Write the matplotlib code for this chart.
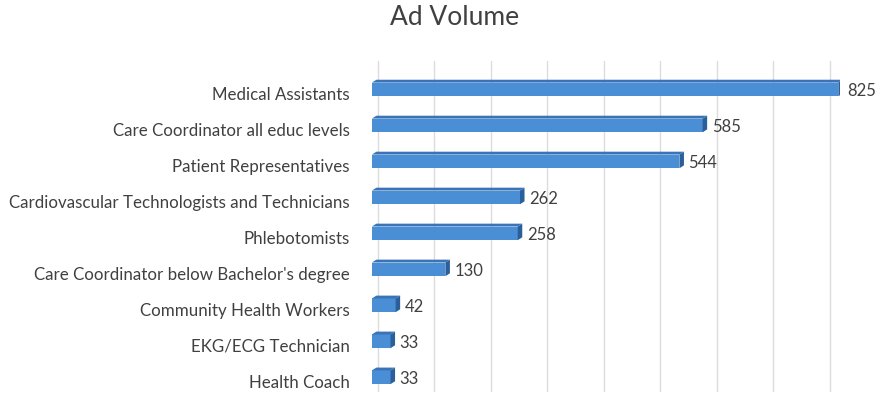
import matplotlib.pyplot as plt
import matplotlib.transforms as mtransforms
from matplotlib.patches import Polygon
import numpy as np

# Job titles and number of ads for each
titles = [
    "Medical Assistants",
    "Care Coordinator all educ levels",
    "Patient Representatives",
    "Cardiovascular Technologists and Technicians",
    "Phlebotomists",
    "Care Coordinator below Bachelor's degree",
    "Community Health Workers",
    "EKG/ECG Technician",
    "Health Coach",
]
ad_counts = [825, 585, 544, 262, 258, 130, 42, 33, 33]

bar_colour = "#4a8ed6"
side_colour = "#2b5f9a"
top_colour = "#3a74b8"
grid_colour = "#dcdcdc"
text_colour = "#404040"

plt.rcParams['font.family'] = ['Lato', 'DejaVu Sans']

fig = plt.figure(figsize=(8.75, 3.96), dpi=100)
ax = fig.add_axes([0.425, 0.01, 0.535, 0.835])

ypos = np.arange(len(titles))
bar_h = 0.38
depth_x = 8     # 3d depth in data units
depth_y = 0.08

ax.barh(ypos, ad_counts, height=bar_h, color=bar_colour, zorder=3)

# fake 3d: darker end cap and top strip on each bar
for y, v in zip(ypos, ad_counts):
    cap = Polygon([(v, y - bar_h / 2), (v + depth_x, y - bar_h / 2 - depth_y),
                   (v + depth_x, y + bar_h / 2 - depth_y), (v, y + bar_h / 2)],
                  closed=True, facecolor=side_colour, edgecolor='none', zorder=3)
    ax.add_patch(cap)
    top = Polygon([(0, y - bar_h / 2), (depth_x, y - bar_h / 2 - depth_y),
                   (v + depth_x, y - bar_h / 2 - depth_y), (v, y - bar_h / 2)],
                  closed=True, facecolor=top_colour, edgecolor='none', zorder=3)
    ax.add_patch(top)
    ax.text(v + depth_x + 8, y + 0.05, str(v), va='center', ha='left',
            fontsize=12, color=text_colour)

ax.set_ylim(8.41, -0.78)
ax.set_xlim(0, 828)
ax.set_yticks(ypos)
ax.set_yticklabels(titles, fontsize=12.2, color=text_colour)
ax.tick_params(axis='y', length=0, pad=16)
# category labels sit a little below the bar centres
shift = mtransforms.ScaledTranslation(0, -4 / 100, fig.dpi_scale_trans)
for lbl in ax.get_yticklabels():
    lbl.set_transform(lbl.get_transform() + shift)
ax.set_xticks(np.arange(0, 801, 100) + 10)
ax.tick_params(axis='x', length=0, labelbottom=False)
ax.grid(axis='x', color=grid_colour, linewidth=1, zorder=0)
for s in ax.spines.values():
    s.set_visible(False)

fig.text(0.52, 0.955, "Ad Volume", ha='center', va='center', fontsize=19, color=text_colour)

fig.savefig("out.png", dpi=100)
